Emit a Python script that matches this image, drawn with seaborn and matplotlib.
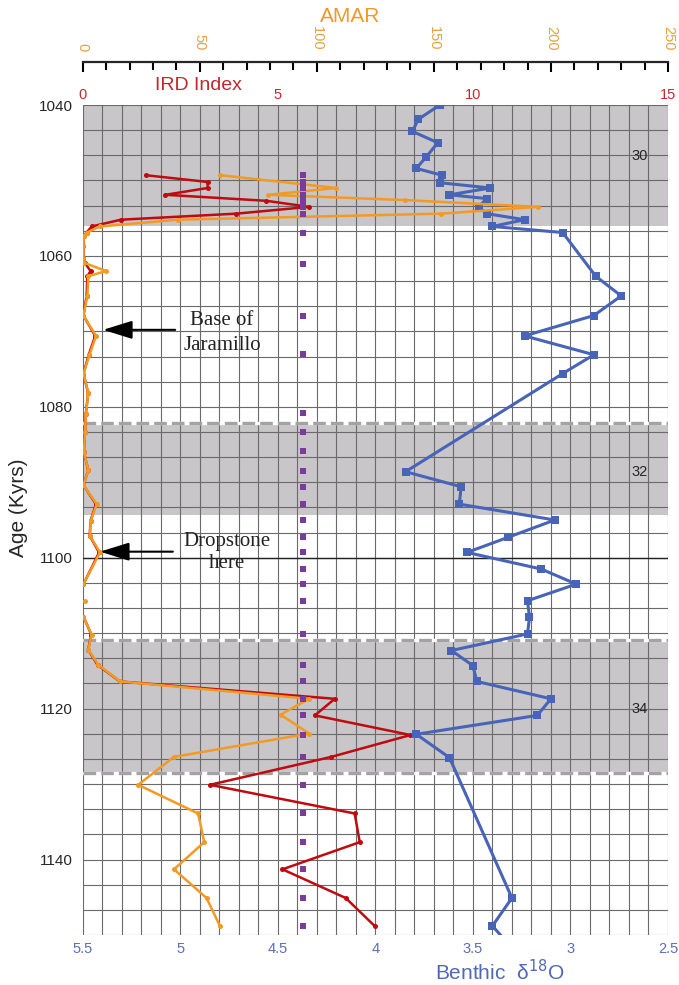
import matplotlib
matplotlib.use('Agg')
import matplotlib.pyplot as plt
from matplotlib.ticker import MultipleLocator
import pandas as pd
import seaborn as sns

# benthic d18O record
blue_age = [1040.0, 1041.9, 1043.5, 1045.0, 1046.9, 1048.4, 1049.3, 1050.3, 1051.0, 1051.9,
            1052.4, 1053.5, 1054.4, 1055.2, 1056.1, 1056.9, 1062.7, 1065.3, 1067.9, 1070.6,
            1073.1, 1075.6, 1088.6, 1090.6, 1092.9, 1095.0, 1097.3, 1099.3, 1101.5, 1103.5,
            1105.7, 1107.9, 1110.1, 1112.3, 1114.3, 1116.4, 1118.7, 1120.9, 1123.4, 1126.5,
            1145.1, 1148.8, 1152.0]
blue_d18o = [3.67, 3.78, 3.81, 3.68, 3.74, 3.79, 3.66, 3.67, 3.41, 3.62,
             3.43, 3.47, 3.43, 3.235, 3.40, 3.04, 2.87, 2.74, 2.88, 3.235,
             2.88, 3.04, 3.845, 3.56, 3.57, 3.08, 3.32, 3.53, 3.15, 2.97,
             3.22, 3.21, 3.22, 3.61, 3.50, 3.48, 3.10, 3.17, 3.79, 3.62,
             3.30, 3.40, 3.29]

# IRD index
ird_age = [1049.3, 1050.2, 1051.0, 1051.9, 1052.7, 1053.5, 1054.4, 1055.2, 1056.1, 1056.9,
           1057.3, 1058.7, 1060.3, 1060.9, 1062.0, 1062.7, 1065.3, 1067.9, 1070.6, 1073.2,
           1075.6, 1078.2, 1080.9, 1083.3, 1086.0, 1088.4, 1090.4, 1092.9, 1095.1, 1097.1,
           1099.3, 1103.5,
           1107.8, 1110.2, 1112.2, 1114.2, 1116.4, 1118.7, 1120.9, 1123.5, 1126.4, 1130.1,
           1133.9, 1137.7, 1141.3, 1145.1, 1148.8]
ird_val = [1.61, 3.20, 3.20, 2.12, 4.71, 5.80, 3.94, 0.98, 0.23, 0.10,
           0.03, 0.02, 0.02, 0.05, 0.20, 0.12, 0.10, 0.02, 0.32, 0.15,
           0.02, 0.14, 0.08, 0.06, 0.03, 0.14, 0.02, 0.34, 0.20, 0.18,
           0.42, 0.02,
           0.02, 0.22, 0.14, 0.38, 0.95, 6.46, 5.95, 8.40, 6.37, 3.26,
           6.97, 7.10, 5.12, 6.74, 7.48]
ird_seg = [0] * 32 + [1] * 15

# AMAR
amar_age = [1049.3, 1051.0, 1051.9, 1052.6, 1053.5, 1054.4, 1055.2, 1056.1, 1056.9, 1057.3,
            1058.7, 1060.3, 1060.9, 1062.0, 1062.7, 1065.3, 1067.9, 1070.6, 1073.2, 1075.6,
            1078.2, 1080.9, 1083.3, 1086.0, 1088.4, 1090.4, 1092.9, 1095.1, 1097.1, 1099.3,
            1103.5,
            1105.7,
            1107.8, 1110.2, 1112.2, 1114.2, 1116.4, 1118.7, 1120.8, 1123.3, 1126.4, 1130.1,
            1133.9, 1137.7, 1141.3, 1145.1, 1148.8]
amar_val = [58.6, 108.4, 79.2, 137.5, 194.4, 153.2, 40.8, 7.4, 1.7, 0.5,
            0.3, 0.3, 0.5, 9.9, 2.4, 2.0, 0.3, 5.7, 2.8, 0.3,
            2.4, 1.4, 1.0, 0.5, 2.4, 0.3, 6.0, 3.4, 3.1, 7.4,
            0.3,
            1.0,
            0.3, 3.8, 2.4, 6.7, 15.9, 96.7, 84.5, 96.7, 39.0, 23.7,
            49.3, 51.9, 39.0, 52.9, 58.6]
amar_seg = [0] * 31 + [1] + [2] * 15

# sample ages marked along the dotted line
dot_age = [1049.3, 1050.2, 1051.0, 1051.9, 1052.7, 1053.5, 1054.4, 1056.9, 1061.1, 1067.9,
           1073.0, 1080.8, 1083.3, 1085.9, 1088.5, 1090.6, 1092.9, 1095.0, 1097.2, 1099.3,
           1101.5, 1103.5, 1105.7, 1110.1, 1114.2, 1116.4, 1118.7, 1120.9, 1123.5, 1126.4,
           1130.1, 1133.9, 1137.7, 1141.3, 1145.1, 1148.8]
dot_ird = 5.64

mis_labels = ['30', '32', '34']
mis_label_age = [1046.8, 1088.7, 1120.0]
mis_bands = [(1040, 1056), (1082.1, 1094.4), (1110.9, 1128.5)]
dashed_ages = [1082.1, 1110.9, 1128.5]

age_ticks = [1040, 1060, 1080, 1100, 1120, 1140]
d18o_ticks = [5.5, 5, 4.5, 4, 3.5, 3, 2.5]
ird_ticks = [0, 5, 10, 15]
amar_ticks = [0, 50, 100, 150, 200, 250]

BLUE = '#4864B9'
RED = '#C00A0F'
ORANGE = '#F29A24'
PURPLE = '#7A3C98'
BAND = '#C8C6C8'

sns.set_style('white')
plt.rcParams['font.family'] = ['Liberation Sans', 'DejaVu Sans']

fig = plt.figure(figsize=(6.79, 9.85), dpi=100)
ax = fig.add_axes([0.1218, 0.0508, 0.862, 0.8426])

# base axis: bands, grid, age and d18O ticks
for lo, hi in mis_bands:
    ax.axhspan(lo, hi, color=BAND, lw=0, zorder=0.2)
for a in dashed_ages:
    ax.axhline(a, color='white', lw=2.4, zorder=0.7)
    ax.axhline(a, color='#A3A3A3', lw=2.4, dashes=(3.8, 1.5), zorder=0.8)
ax.axhline(1100, color='#222222', lw=1.0, zorder=0.6)
for lab, a in zip(mis_labels, mis_label_age):
    ax.text(2.645, a, lab, fontsize=10.5, ha='center', va='center', zorder=0.9)

ax.set_xlim(5.5, 2.5)
ax.set_xticks(d18o_ticks)
ax.set_xticklabels([f'{t:g}' for t in d18o_ticks], color='#5A6EBC', fontsize=10.5)
ax.set_yticks(age_ticks)
ax.set_yticklabels([str(t) for t in age_ticks], fontsize=11)
ax.xaxis.set_minor_locator(MultipleLocator(0.1))
ax.yaxis.set_minor_locator(MultipleLocator(10 / 3))
ax.set_axisbelow(True)
ax.grid(which='both', color='#6A6A6A', lw=0.8)
ax.tick_params(which='both', length=0)
ax.tick_params(axis='x', pad=5)
ax.tick_params(axis='y', pad=7)
for s in ax.spines.values():
    s.set_visible(False)

# IRD index (red)
ax_ird = ax.twiny()
df_ird = pd.DataFrame({'age': ird_age, 'ird': ird_val, 'seg': ird_seg})
sns.lineplot(data=df_ird, x='ird', y='age', units='seg', estimator=None, sort=False,
             color=RED, lw=1.8, marker='o', markersize=3.6, markeredgewidth=0, ax=ax_ird)
ax_ird.set_xlim(0, 15)
ax_ird.set_xticks(ird_ticks)
ax_ird.set_xticklabels([str(t) for t in ird_ticks], color='#C8282D', fontsize=10.5)
ax_ird.tick_params(axis='x', length=0, pad=2)
ax_ird.set_xlabel('')
for s in ax_ird.spines.values():
    s.set_visible(False)

# benthic d18O (blue)
ax_d = ax.twiny()
df_blue = pd.DataFrame({'age': blue_age, 'd18o': blue_d18o})
sns.lineplot(data=df_blue, x='d18o', y='age', estimator=None, sort=False,
             color=BLUE, lw=2.2, marker='s', markersize=6, markeredgewidth=0, ax=ax_d)
ax_d.set_xlim(5.5, 2.5)
ax_d.tick_params(axis='x', top=False, labeltop=False)
ax_d.set_xlabel('')
for s in ax_d.spines.values():
    s.set_visible(False)

# AMAR (orange) with its own axis line above the plot
ax_a = ax.twiny()
df_amar = pd.DataFrame({'age': amar_age, 'amar': amar_val, 'seg': amar_seg})
sns.lineplot(data=df_amar, x='amar', y='age', units='seg', estimator=None, sort=False,
             color=ORANGE, lw=1.8, marker='o', markersize=3.6, markeredgewidth=0, ax=ax_a)
ax_a.set_xlim(0, 250)
ax_a.set_xticks(amar_ticks)
ax_a.set_xticklabels([str(t) for t in amar_ticks])
ax_a.xaxis.set_minor_locator(MultipleLocator(10))
ax_a.tick_params(axis='x', which='both', direction='in', width=1.5, color='black')
ax_a.tick_params(axis='x', which='major', length=7.5, pad=8, labelrotation=270,
                 labelcolor='#E9A040', labelsize=10.5)
ax_a.tick_params(axis='x', which='minor', length=5.5)
ax_a.set_xlabel('')
for name, s in ax_a.spines.items():
    s.set_visible(name == 'top')
ax_a.spines['top'].set_position(('outward', 31))
ax_a.spines['top'].set_linewidth(1.6)

# annotations
ax_a.annotate('', xy=(8.7, 1069.8), xytext=(39.5, 1069.8),
              arrowprops=dict(arrowstyle='-|>,head_length=0.9,head_width=0.28',
                              color='black', lw=1.5, mutation_scale=20, shrinkA=0, shrinkB=0))
ax_a.text(59.5, 1070.2, 'Base of\nJaramillo', family='Liberation Serif', fontsize=15,
          ha='center', va='center', linespacing=1.45, color='#222222')
ax_a.annotate('', xy=(7.4, 1099.2), xytext=(38.5, 1099.2),
              arrowprops=dict(arrowstyle='-|>,head_length=0.9,head_width=0.28',
                              color='black', lw=1.5, mutation_scale=20, shrinkA=0, shrinkB=0))
ax_a.text(61.4, 1099.3, 'Dropstone\nhere', family='Liberation Serif', fontsize=15,
          ha='center', va='center', linespacing=1.25, color='#222222')

# dotted purple marks
ax_p = ax.twiny()
sns.scatterplot(x=[dot_ird] * len(dot_age), y=dot_age, marker='s', s=14, color=PURPLE,
                linewidth=0, ax=ax_p)
ax_p.set_xlim(0, 15)
ax_p.tick_params(axis='x', top=False, labeltop=False)
for s in ax_p.spines.values():
    s.set_visible(False)

ax.set_ylim(1150, 1040)
ax.set_xlabel('')
ax.set_ylabel('')

fig.text(350 / 679, 1 - 17 / 985, 'AMAR', color='#EE9A2A', fontsize=15, ha='center', va='center')
fig.text(198 / 679, 1 - 86 / 985, 'IRD Index', color='#C0282D', fontsize=14, ha='center', va='center')
fig.text(19 / 679, 1 - 508 / 985, 'Age (Kyrs)', fontsize=15, rotation=90, ha='center', va='center')
fig.text(500 / 679, 1 - 972 / 985, 'Benthic  δ$^{18}$O', color='#5068B8', fontsize=15,
         ha='center', va='center')

fig.savefig('out.png', dpi=100, facecolor='white')
